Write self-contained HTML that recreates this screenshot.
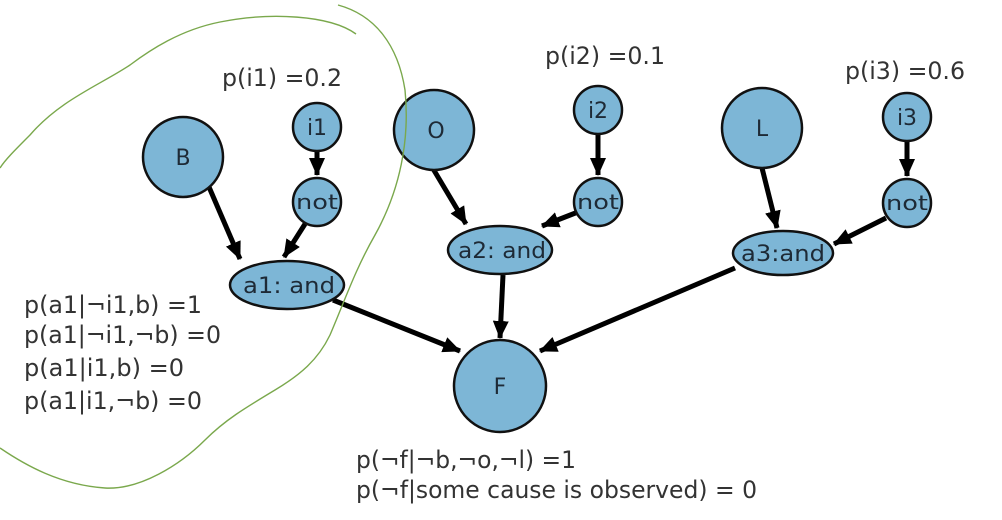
<!DOCTYPE html>
<html><head><meta charset="utf-8"><style>
html,body{margin:0;padding:0;background:#fff;}
svg{display:block;}
text{font-family:"DejaVu Sans","Liberation Sans",sans-serif;fill:#333;}
.n{fill:#7db6d6;stroke:#111;stroke-width:2.5;}
.e{stroke:#000;stroke-width:5;fill:none;marker-end:url(#ah);}
.lbl{font-size:22px;fill:#1e2a36;text-anchor:middle;}
.sm{font-size:20px;}
.t{font-size:24px;}
</style></head><body>
<svg width="1002" height="520" viewBox="0 0 1002 520">
<defs><marker id="ah" markerWidth="3.6" markerHeight="3.2" refX="3.4" refY="1.6" orient="auto" markerUnits="strokeWidth"><path d="M0,0 L3.6,1.6 L0,3.2 z" fill="#000"/></marker></defs>
<g>
<line class="e" x1="209" y1="187" x2="240" y2="259"/>
<line class="e" x1="317" y1="151" x2="317" y2="175"/>
<line class="e" x1="305" y1="224" x2="284" y2="257"/>
<line class="e" x1="333" y1="300" x2="460" y2="351"/>
<line class="e" x1="432" y1="167" x2="466" y2="224"/>
<line class="e" x1="598" y1="134" x2="598" y2="175"/>
<line class="e" x1="578" y1="212" x2="542" y2="226"/>
<line class="e" x1="503" y1="275" x2="500" y2="338"/>
<line class="e" x1="762" y1="168" x2="777" y2="228"/>
<line class="e" x1="907" y1="141" x2="907" y2="176"/>
<line class="e" x1="886" y1="218" x2="834" y2="244"/>
<line class="e" x1="735" y1="268" x2="540" y2="351"/>
</g>
<g>
<circle class="n" cx="183" cy="157" r="40"/><text class="lbl" x="183" y="165">B</text>
<circle class="n" cx="317" cy="127" r="24"/><text class="lbl" x="317" y="135">i1</text>
<circle class="n" cx="317" cy="202" r="24"/><text class="lbl sm" x="317" y="209" textLength="42" lengthAdjust="spacingAndGlyphs">not</text>
<ellipse class="n" cx="287" cy="285" rx="57" ry="24"/><text class="lbl" x="289" y="293" textLength="92" lengthAdjust="spacingAndGlyphs">a1: and</text>
<circle class="n" cx="434" cy="130" r="40"/><text class="lbl" x="436" y="138">O</text>
<circle class="n" cx="598" cy="110" r="24"/><text class="lbl" x="598" y="118">i2</text>
<circle class="n" cx="598" cy="202" r="24"/><text class="lbl sm" x="598" y="209" textLength="42" lengthAdjust="spacingAndGlyphs">not</text>
<ellipse class="n" cx="500" cy="250" rx="52" ry="24"/><text class="lbl" x="502" y="258" textLength="88" lengthAdjust="spacingAndGlyphs">a2: and</text>
<circle class="n" cx="762" cy="128" r="40"/><text class="lbl" x="762" y="136">L</text>
<circle class="n" cx="907" cy="117" r="24"/><text class="lbl" x="907" y="125">i3</text>
<circle class="n" cx="907" cy="203" r="24"/><text class="lbl sm" x="907" y="210" textLength="42" lengthAdjust="spacingAndGlyphs">not</text>
<ellipse class="n" cx="783" cy="253" rx="50" ry="22"/><text class="lbl" x="783" y="261" textLength="84" lengthAdjust="spacingAndGlyphs">a3:and</text>
<circle class="n" cx="500" cy="386" r="46"/><text class="lbl" x="500" y="394">F</text>
</g>
<g>
<text class="t" x="222" y="86" textLength="120" lengthAdjust="spacingAndGlyphs">p(i1) =0.2</text>
<text class="t" x="545" y="64" textLength="120" lengthAdjust="spacingAndGlyphs">p(i2) =0.1</text>
<text class="t" x="845" y="79" textLength="120" lengthAdjust="spacingAndGlyphs">p(i3) =0.6</text>
<text class="t" x="24" y="313" textLength="178" lengthAdjust="spacingAndGlyphs">p(a1|¬i1,b) =1</text>
<text class="t" x="24" y="343" textLength="197" lengthAdjust="spacingAndGlyphs">p(a1|¬i1,¬b) =0</text>
<text class="t" x="24" y="376" textLength="160" lengthAdjust="spacingAndGlyphs">p(a1|i1,b) =0</text>
<text class="t" x="24" y="409" textLength="178" lengthAdjust="spacingAndGlyphs">p(a1|i1,¬b) =0</text>
<text class="t" x="356" y="468" textLength="220" lengthAdjust="spacingAndGlyphs">p(¬f|¬b,¬o,¬l) =1</text>
<text class="t" x="356" y="498" textLength="401" lengthAdjust="spacingAndGlyphs">p(¬f|some cause is observed) = 0</text>
</g>
<path fill="none" stroke="#7aa84c" stroke-width="1.4"
d="M338,5 C375,15 398,45 405,90 C410,140 400,190 375,235 C355,270 345,300 330,335 C318,360 300,375 275,390 C245,408 225,420 205,440 C180,465 140,490 105,488 C60,485 25,465 0,448"/>
<path fill="none" stroke="#7aa84c" stroke-width="1.4"
d="M356,34 C330,15 270,12 220,22 C180,30 150,50 130,65 C100,85 60,100 30,135 C15,150 5,160 0,168"/>
</svg>
</body></html>
